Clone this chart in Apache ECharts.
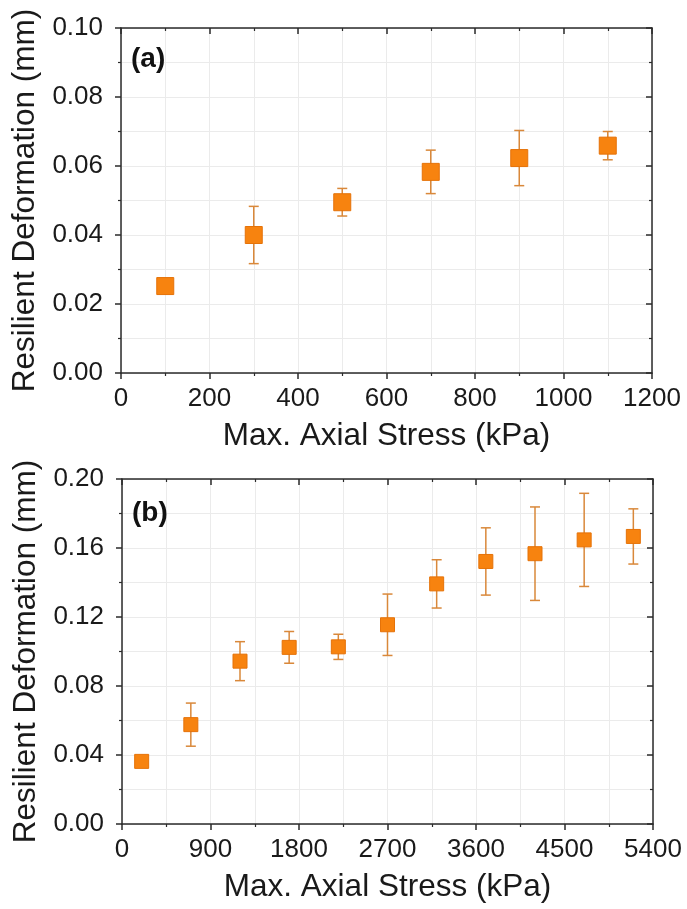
<!DOCTYPE html>
<html>
<head>
<meta charset="utf-8">
<script src="https://cdn.jsdelivr.net/npm/echarts@6/dist/echarts.min.js"></script>
<style>
  html, body { margin: 0; padding: 0; background: #fff; }
  #chart { width: 687px; height: 909px; }
</style>
</head>
<body>
<div id="chart"></div>
<script>
// Panel (a): resilient deformation against maximum axial stress
const stressA = [100, 300, 500, 700, 900, 1100];
const deformA = [0.0252, 0.0400, 0.0495, 0.0583, 0.0623, 0.0659];
const errA    = [0.0000, 0.0083, 0.0040, 0.0063, 0.0080, 0.0041];

// Panel (b): wider stress range
const stressB = [200, 700, 1200, 1700, 2200, 2700, 3200, 3700, 4200, 4700, 5200];
const deformB = [0.0363, 0.0576, 0.0944, 0.1024, 0.1027, 0.1155, 0.1392, 0.1522, 0.1567, 0.1647, 0.1667];
const errB    = [0.0000, 0.0125, 0.0113, 0.0092, 0.0073, 0.0178, 0.0140, 0.0195, 0.0271, 0.0270, 0.0160];

const xTicksA = { min: 0, max: 1200, interval: 200 };
const yTicksA = { min: 0, max: 0.10, interval: 0.02 };
const xTicksB = { min: 0, max: 5400, interval: 900 };
const yTicksB = { min: 0, max: 0.20, interval: 0.04 };

const FONT = 'Liberation Sans, Arial, sans-serif';
const AXIS = '#2b2b2b';
const GRID = '#ebebeb';
const ORANGE = '#F7830F';
const ERRCOL = '#D9883A';

function mainX(gi, t) {
  return {
    type: 'value', gridIndex: gi, position: 'bottom',
    min: t.min, max: t.max, interval: t.interval,
    name: 'Max. Axial Stress (kPa)', nameLocation: 'middle', nameGap: 47,
    nameTextStyle: { fontFamily: FONT, fontSize: 31.5, color: '#1a1a1a' },
    axisLine: { show: true, onZero: false, lineStyle: { color: AXIS, width: 1.5 } },
    axisTick: { show: true, inside: false, length: 6, lineStyle: { color: AXIS, width: 1.5 } },
    minorTick: { show: true, splitNumber: 2, length: 3, lineStyle: { color: AXIS, width: 1.2 } },
    axisLabel: { margin: 13, fontFamily: FONT, fontSize: 26, color: '#1a1a1a',
                 formatter: v => String(v) },
    splitLine: { show: true, lineStyle: { color: GRID, width: 1 } },
    minorSplitLine: { show: true, lineStyle: { color: GRID, width: 1 } }
  };
}
function mirrorX(gi, t) {
  return {
    type: 'value', gridIndex: gi, position: 'top',
    min: t.min, max: t.max, interval: t.interval,
    axisLine: { show: true, onZero: false, lineStyle: { color: AXIS, width: 1.5 } },
    axisTick: { show: true, inside: true, length: 6, lineStyle: { color: AXIS, width: 1.5 } },
    minorTick: { show: true, splitNumber: 2, length: 3, lineStyle: { color: AXIS, width: 1.2 } },
    axisLabel: { show: false }, splitLine: { show: false }
  };
}
function mainY(gi, t) {
  return {
    type: 'value', gridIndex: gi, position: 'left',
    min: t.min, max: t.max, interval: t.interval,
    name: 'Resilient Deformation (mm)', nameLocation: 'middle', nameGap: 74,
    nameTextStyle: { fontFamily: FONT, fontSize: 31.5, color: '#1a1a1a' },
    axisLine: { show: true, onZero: false, lineStyle: { color: AXIS, width: 1.5 } },
    axisTick: { show: true, inside: false, length: 6, lineStyle: { color: AXIS, width: 1.5 } },
    minorTick: { show: true, splitNumber: 2, length: 3, lineStyle: { color: AXIS, width: 1.2 } },
    axisLabel: { margin: 18, fontFamily: FONT, fontSize: 26, color: '#1a1a1a',
                 formatter: v => v.toFixed(2) },
    splitLine: { show: true, lineStyle: { color: GRID, width: 1 } },
    minorSplitLine: { show: true, lineStyle: { color: GRID, width: 1 } }
  };
}
function mirrorY(gi, t) {
  return {
    type: 'value', gridIndex: gi, position: 'right',
    min: t.min, max: t.max, interval: t.interval,
    axisLine: { show: true, onZero: false, lineStyle: { color: AXIS, width: 1.5 } },
    axisTick: { show: true, inside: true, length: 6, lineStyle: { color: AXIS, width: 1.5 } },
    minorTick: { show: true, splitNumber: 2, length: 3, lineStyle: { color: AXIS, width: 1.2 } },
    axisLabel: { show: false }, splitLine: { show: false }
  };
}

// vertical error bar with caps
function errorBarSeries(axisIdx, xs, ys, es) {
  return {
    type: 'custom', xAxisIndex: axisIdx, yAxisIndex: axisIdx, z: 3,
    data: xs.map((x, i) => [x, ys[i] - es[i], ys[i] + es[i]]),
    renderItem: function (params, api) {
      const lo = api.coord([api.value(0), api.value(1)]);
      const hi = api.coord([api.value(0), api.value(2)]);
      const w = 5;
      const style = { stroke: ERRCOL, lineWidth: 1.5, fill: null };
      return {
        type: 'group',
        children: [
          { type: 'line', shape: { x1: lo[0], y1: lo[1], x2: hi[0], y2: hi[1] }, style },
          { type: 'line', shape: { x1: hi[0] - w, y1: hi[1], x2: hi[0] + w, y2: hi[1] }, style },
          { type: 'line', shape: { x1: lo[0] - w, y1: lo[1], x2: lo[0] + w, y2: lo[1] }, style }
        ]
      };
    }
  };
}
function pointSeries(axisIdx, xs, ys, size) {
  return {
    type: 'scatter', xAxisIndex: axisIdx, yAxisIndex: axisIdx, z: 4,
    symbol: 'rect', symbolSize: size,
    itemStyle: { color: ORANGE, borderColor: '#E57208', borderWidth: 1, opacity: 1 },
    data: xs.map((x, i) => [x, ys[i]])
  };
}

const chart = echarts.init(document.getElementById('chart'), null, { renderer: 'canvas' });
chart.setOption({
  animation: false,
  backgroundColor: '#ffffff',
  grid: [
    { left: 121, top: 28, width: 531, height: 345 },
    { left: 122, top: 479, width: 531, height: 345 }
  ],
  xAxis: [mainX(0, xTicksA), mainX(1, xTicksB), mirrorX(0, xTicksA), mirrorX(1, xTicksB)],
  yAxis: [mainY(0, yTicksA), mainY(1, yTicksB), mirrorY(0, yTicksA), mirrorY(1, yTicksB)],
  graphic: [
    { type: 'text', left: 131, top: 45, z: 100, style: { text: '(a)', fontFamily: FONT, fontWeight: 'bold', fontSize: 28, fill: '#111' } },
    { type: 'text', left: 132, top: 499, z: 100, style: { text: '(b)', fontFamily: FONT, fontWeight: 'bold', fontSize: 28, fill: '#111' } }
  ],
  series: [
    errorBarSeries(0, stressA, deformA, errA),
    pointSeries(0, stressA, deformA, 17),
    errorBarSeries(1, stressB, deformB, errB),
    pointSeries(1, stressB, deformB, 14)
  ]
});
</script>
</body>
</html>
